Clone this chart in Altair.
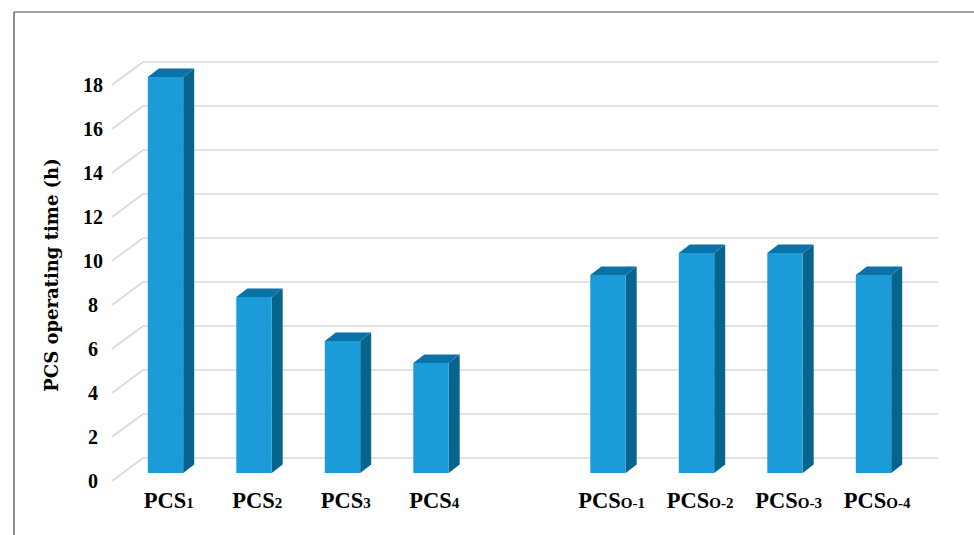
import altair as alt
import pandas as pd

# ---- data -----------------------------------------------------------------
sub_labels = ["1", "2", "3", "4", "O-1", "O-2", "O-3", "O-4"]
hours = [18, 8, 6, 5, 9, 10, 10, 9]
tick_values = [0, 2, 4, 6, 8, 10, 12, 14, 16, 18]
y_title = "PCS operating time (h)"

# ---- layout (pixel geometry converted into scale units) -------------------
W, H = 974, 535
SLOT_PX = 88.5          # distance between neighbouring columns
UNIT_PX = 22.0          # pixels per hour
ORIGIN_X = 165.5        # centre of the first column
BASE_Y = 473.0          # floor line of the columns


def sx(px):
    return (px - ORIGIN_X) / SLOT_PX


x_dom = [sx(0), sx(W)]
y_dom = [(BASE_Y - H) / UNIT_PX, BASE_Y / UNIT_PX]

HALF_W = 17.7 / SLOT_PX             # half width of a column front
BAR_DX = 11.0 / SLOT_PX             # column depth (x)
BAR_DY = 8.5 / UNIT_PX              # column depth (y)
WALL_FRONT_X = sx(112)              # front edge of the side wall
WALL_BACK_X = sx(143)               # back wall left edge
WALL_RIGHT_X = sx(938)              # back wall right edge
FRONT_DY = 8.0 / UNIT_PX
BACK_DY = 15.0 / UNIT_PX

FRONT_C = "#1b9bd7"
SIDE_C = "#06648d"
TOP_C = "#0a72a6"
GRID_C = "#d9d9d9"

# left group sits in slots 0-3, right group after one empty slot
slots = [i if i < 4 else i + 1 for i in range(len(hours))]

bars = pd.DataFrame({"slot": slots, "h": hours, "sub": sub_labels})
bars["xl"] = bars["slot"] - HALF_W
bars["xr"] = bars["slot"] + HALF_W
bars["id"] = range(len(bars))

# side and top faces: two edges per column, filled between them
side_rows = []
top_rows = []
for _, r in bars.iterrows():
    side_rows.append({"id": r["id"], "x": r["xr"], "lo": 0.0, "hi": r["h"]})
    side_rows.append({"id": r["id"], "x": r["xr"] + BAR_DX, "lo": BAR_DY, "hi": r["h"] + BAR_DY})
    top_rows.append({"id": r["id"], "y": r["h"], "a": r["xl"], "b": r["xr"]})
    top_rows.append({"id": r["id"], "y": r["h"] + BAR_DY, "a": r["xl"] + BAR_DX, "b": r["xr"] + BAR_DX})
side_df = pd.DataFrame(side_rows)
top_df = pd.DataFrame(top_rows)

grid = pd.DataFrame({"v": tick_values})
grid["fx"] = WALL_FRONT_X
grid["fy"] = grid["v"] - FRONT_DY
grid["bx"] = WALL_BACK_X
grid["by"] = grid["v"] + BACK_DY
grid["rx"] = WALL_RIGHT_X
grid["lx"] = sx(93)

# category label anchors: "PCS" right-aligned, subscript left-aligned
MAIN_W = 42.5
bars["anchor"] = bars["slot"] + (3.5 + MAIN_W / 2 - 8.0 * bars["sub"].str.len() / 2) / SLOT_PX
bars["main"] = "PCS"

xs = alt.Scale(domain=x_dom, nice=False, zero=False)
ys = alt.Scale(domain=y_dom, nice=False, zero=False)


def X(f):
    return alt.X(f, type="quantitative", scale=xs, axis=None)


def Y(f):
    return alt.Y(f, type="quantitative", scale=ys, axis=None)


base_grid = alt.Chart(grid)
grid_diag = base_grid.mark_rule(color=GRID_C, strokeWidth=1.6).encode(
    x=X("fx"), y=Y("fy"), x2="bx", y2="by")
grid_back = base_grid.mark_rule(color=GRID_C, strokeWidth=1.6).encode(
    x=X("bx"), x2="rx", y=Y("by"))

side = alt.Chart(side_df).mark_area(color=SIDE_C, orient="vertical").encode(
    x=X("x"), y=Y("lo"), y2="hi", detail="id:N")
top = alt.Chart(top_df).mark_area(color=TOP_C, orient="horizontal").encode(
    y=Y("y"), x=X("a"), x2="b", detail="id:N")
front = alt.Chart(bars).transform_calculate(zero="0").mark_rect(color=FRONT_C).encode(
    x=X("xl"), x2="xr", y=Y("zero"), y2="h")

tick_text = base_grid.mark_text(
    font="Liberation Serif", fontWeight="bold", fontSize=20, color="#000",
    align="center", baseline="middle", dy=1).encode(
    x=X("lx"), y=Y("fy"), text="v:Q")

main_lbl = alt.Chart(bars).mark_text(
    font="Liberation Serif", fontWeight="bold", fontSize=22.5, color="#000",
    align="right", baseline="alphabetic").encode(
    x=X("anchor"), y=alt.value(508), text="main:N")
sub_lbl = alt.Chart(bars).mark_text(
    font="Liberation Serif", fontWeight="bold", fontSize=15, color="#000",
    align="left", baseline="alphabetic").encode(
    x=X("anchor"), y=alt.value(508), text="sub:N")

title = alt.Chart(pd.DataFrame({"t": [y_title]})).mark_text(
    font="DejaVu Serif", fontWeight="bold", fontSize=18, color="#000",
    angle=270, align="center", baseline="alphabetic").encode(
    x=alt.value(58), y=alt.value(275), text="t:N")

frame_top = alt.Chart(pd.DataFrame({"a": [0]})).mark_rule(color="#444", strokeWidth=1.2).encode(
    x=alt.value(14), x2=alt.value(W), y=alt.value(12))
frame_left = alt.Chart(pd.DataFrame({"a": [0]})).mark_rule(color="#444", strokeWidth=1.2).encode(
    x=alt.value(14), y=alt.value(12), y2=alt.value(H))

chart = alt.layer(
    grid_diag, grid_back, side, top, front,
    tick_text, main_lbl, sub_lbl, title, frame_top, frame_left,
).properties(
    width=W, height=H, padding=0, autosize="none", background="white"
).configure_view(stroke=None)

chart.save("out.html", embed_options={"renderer": "svg", "actions": False})
